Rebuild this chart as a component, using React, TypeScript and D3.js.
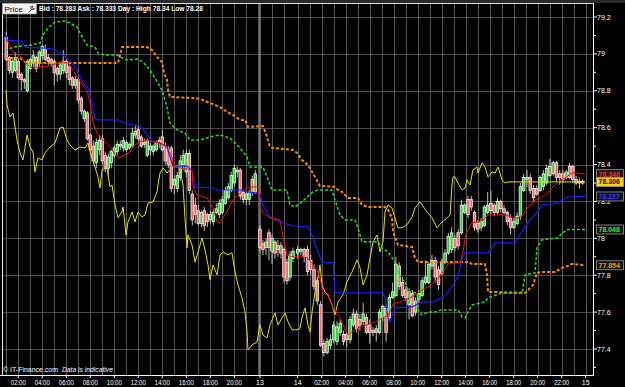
import React from "react";
import * as d3 from "d3";

// ---- sessions (trading segments) ----
const SESSION_DAY = [12, 13, 14];
const SESSION_FIRST = [1.0, 21.0, 0.0];
const SESSION_LAST = [21.75, 23.75, 23.75];
const SESSION_COUNT = [84, 12, 88];
// position of each calendar day's 00:00 on the compressed (gap-free) hour axis
const DAY_OFFSET: [number, number][] = [[12, 0], [13, 1.14], [14, 25.28], [15, 49.28]];

// ---- candles ----
const OPEN = [
  79.09,78.98,78.90,78.91,78.96,78.89,78.86,78.80,78.92,78.95,
  78.98,78.95,78.99,79.03,78.98,78.97,78.96,78.92,78.89,78.91,
  78.96,78.93,78.87,78.83,78.86,78.76,78.65,78.68,78.56,78.50,
  78.41,78.48,78.54,78.45,78.38,78.41,78.45,78.47,78.50,78.49,
  78.48,78.49,78.50,78.56,78.59,78.55,78.51,78.45,78.48,78.47,
  78.48,78.52,78.55,78.50,78.48,78.49,78.29,78.27,78.33,78.40,
  78.36,78.46,78.24,78.18,78.15,78.08,78.15,78.13,78.10,78.09,
  78.14,78.13,78.14,78.19,78.22,78.26,78.30,78.36,78.37,78.25,
  78.21,78.21,78.32,78.25,
  78.05,77.97,77.95,78.03,77.93,77.98,77.94,77.96,77.94,77.87,77.79,77.89,
  77.92,77.93,77.94,77.94,77.88,77.83,77.77,77.64,77.43,77.38,
  77.42,77.45,77.44,77.49,77.48,77.48,77.45,77.53,77.59,77.56,
  77.55,77.57,77.53,77.49,77.51,77.49,77.57,77.62,77.57,77.68,
  77.69,77.85,77.76,77.72,77.64,77.70,77.60,77.67,77.69,77.76,
  77.76,77.85,77.88,77.83,77.81,77.87,77.92,77.94,78.00,78.03,
  78.03,78.14,78.21,78.21,78.14,78.08,78.06,78.07,78.14,78.19,
  78.18,78.14,78.20,78.16,78.14,78.11,78.06,78.08,78.12,78.26,
  78.32,78.33,78.27,78.27,78.26,78.28,78.30,78.39,78.35,78.41,
  78.35,78.35,78.33,78.39,78.39,78.32,78.31,78.30,
];
const CLOSE = [
  78.97,78.91,78.96,78.98,78.87,78.86,78.85,78.96,78.97,78.99,
  78.92,79.01,79.04,78.97,78.96,78.95,78.90,78.89,78.94,78.96,
  78.90,78.86,78.83,78.86,78.75,78.69,78.69,78.54,78.48,78.42,
  78.52,78.53,78.42,78.38,78.44,78.47,78.49,78.51,78.51,78.53,
  78.52,78.51,78.57,78.58,78.54,78.50,78.52,78.53,78.50,78.50,
  78.52,78.53,78.48,78.42,78.40,78.27,78.32,78.34,78.42,78.45,
  78.46,78.26,78.10,78.13,78.08,78.14,78.07,78.09,78.13,78.14,
  78.16,78.19,78.21,78.26,78.28,78.34,78.38,78.37,78.23,78.21,
  78.24,78.25,78.25,78.35,
  77.95,77.94,77.98,77.95,78.00,77.92,77.96,77.92,77.79,77.77,77.91,77.93,
  77.94,77.94,77.90,77.82,77.83,77.74,77.66,77.42,77.38,77.44,
  77.45,77.53,77.52,77.54,77.44,77.45,77.56,77.59,77.51,77.53,
  77.59,77.49,77.49,77.50,77.49,77.60,77.63,77.49,77.68,77.71,
  77.86,77.74,77.69,77.68,77.71,77.58,77.66,77.70,77.77,77.79,
  77.86,77.88,77.79,77.75,77.87,77.92,78.01,78.03,77.95,77.96,
  78.18,78.18,78.13,78.17,78.06,78.05,78.09,78.17,78.18,78.15,
  78.14,78.20,78.16,78.14,78.09,78.06,78.09,78.12,78.28,78.33,
  78.33,78.26,78.22,78.24,78.33,78.35,78.38,78.34,78.41,78.33,
  78.33,78.32,78.36,78.33,78.32,78.30,78.30,78.31,
];
const HIGH = [
  79.12,78.99,78.97,79.01,78.97,78.90,78.87,78.97,78.98,79.02,
  78.99,79.02,79.05,79.05,79.00,78.98,78.97,78.93,78.95,79.02,
  78.97,78.94,78.88,78.88,78.87,78.77,78.70,78.69,78.57,78.53,
  78.54,78.56,78.56,78.47,78.46,78.48,78.50,78.53,78.53,78.55,
  78.53,78.52,78.60,78.61,78.61,78.56,78.54,78.54,78.52,78.51,
  78.53,78.55,78.59,78.52,78.50,78.50,78.33,78.36,78.45,78.48,
  78.48,78.48,78.26,78.22,78.18,78.15,78.17,78.14,78.15,78.16,
  78.19,78.21,78.23,78.28,78.30,78.36,78.40,78.39,78.38,78.26,
  78.25,78.26,78.34,78.37,
  78.07,77.99,78.00,78.05,78.02,77.99,77.99,77.98,77.95,77.89,77.93,77.95,
  77.96,77.95,77.95,77.96,77.91,77.86,77.79,77.66,77.45,77.46,
  77.48,77.55,77.55,77.56,77.50,77.49,77.58,77.62,77.61,77.59,
  77.65,77.59,77.56,77.52,77.53,77.62,77.64,77.64,77.70,77.76,
  77.90,77.87,77.79,77.74,77.73,77.72,77.68,77.72,77.79,77.88,
  77.87,77.91,77.90,77.85,77.89,77.94,78.03,78.06,78.02,78.05,
  78.21,78.19,78.23,78.23,78.15,78.10,78.11,78.18,78.25,78.26,
  78.19,78.22,78.21,78.18,78.15,78.13,78.11,78.14,78.30,78.35,
  78.37,78.35,78.29,78.29,78.34,78.37,78.40,78.43,78.42,78.42,
  78.37,78.37,78.37,78.41,78.40,78.34,78.33,78.32,
];
const LOW = [
  78.96,78.89,78.87,78.90,78.86,78.80,78.81,78.79,78.91,78.93,
  78.90,78.93,78.97,78.96,78.94,78.93,78.83,78.85,78.86,78.89,
  78.87,78.83,78.81,78.81,78.73,78.67,78.63,78.53,78.45,78.40,
  78.38,78.45,78.40,78.36,78.34,78.38,78.44,78.45,78.48,78.47,
  78.47,78.48,78.49,78.54,78.53,78.49,78.49,78.44,78.45,78.45,
  78.47,78.49,78.47,78.40,78.38,78.25,78.24,78.25,78.31,78.37,
  78.33,78.24,78.07,78.08,78.07,78.06,78.04,78.06,78.08,78.07,
  78.13,78.11,78.13,78.18,78.21,78.25,78.28,78.33,78.21,78.19,
  78.18,78.18,78.23,78.24,
  77.93,77.91,77.91,77.88,77.86,77.89,77.90,77.89,77.76,77.75,77.77,77.87,
  77.89,77.91,77.87,77.80,77.80,77.72,77.64,77.41,77.36,77.37,
  77.40,77.43,77.42,77.47,77.42,77.41,77.43,77.52,77.49,77.50,
  77.53,77.48,77.43,77.47,77.44,77.48,77.55,77.44,77.55,77.67,
  77.68,77.72,77.68,77.66,77.56,77.57,77.58,77.65,77.68,77.75,
  77.75,77.83,77.76,77.72,77.80,77.86,77.91,77.92,77.93,77.94,
  78.02,78.13,78.11,78.15,78.04,78.03,78.04,78.06,78.13,78.13,
  78.12,78.13,78.14,78.13,78.07,78.02,78.05,78.07,78.10,78.25,
  78.28,78.24,78.20,78.23,78.25,78.26,78.29,78.33,78.34,78.31,
  78.29,78.30,78.32,78.32,78.30,78.29,78.27,78.29,
];

// ---- indicator lines: [axis hour, price] ----
const RED_LINE: [number, number][] = [
  [1.06,79.075],[1.56,79.01],[2.14,78.99],[2.56,78.956],[2.98,78.93],[3.23,78.924],[4.06,78.93],[4.64,78.935],
  [5.06,78.945],[5.73,78.956],[6.14,78.95],[6.48,78.92],[6.98,78.864],[7.39,78.83],[7.73,78.80],[7.98,78.734],
  [8.23,78.63],[8.39,78.60],[8.56,78.571],[9.06,78.533],[9.64,78.50],[10.06,78.452],[10.48,78.436],[10.89,78.452],
  [11.31,78.468],[11.56,78.50],[12.14,78.523],[12.73,78.533],[13.23,78.523],[13.81,78.517],[14.39,78.495],
  [14.81,78.441],[14.89,78.387],[15.48,78.382],[16.06,78.376],[16.48,78.371],[16.56,78.279],[16.89,78.235],
  [17.73,78.219],[18.23,78.165],[18.56,78.089],[18.81,78.084],[19.06,78.111],[19.39,78.143],[19.89,78.208],
  [20.64,78.252],[21.06,78.273],[21.56,78.279],[21.98,78.279],[22.14,78.165],[22.39,78.138],[22.98,78.111],
  [23.81,78.10],[24.06,78.008],[24.39,77.91],[24.89,77.899],[25.48,77.905],[26.06,77.894],[26.48,77.867],
  [26.89,77.829],[27.14,77.785],[27.39,77.704],[27.81,77.688],[28.23,77.623],[28.81,77.569],[29.06,77.531],
  [29.48,77.476],[29.89,77.498],[30.48,77.52],[31.06,77.531],[31.73,77.547],[32.39,77.569],[32.81,77.58],
  [33.23,77.644],[33.81,77.655],[34.64,77.677],[35.06,77.693],[35.64,77.72],[36.31,77.742],[36.89,77.775],
  [37.39,77.818],[37.81,77.861],[38.81,77.872],[39.06,77.926],[39.23,78.002],[39.48,78.046],[39.81,78.084],
  [40.31,78.089],[40.73,78.10],[41.14,78.127],[41.73,78.127],[42.56,78.127],[43.23,78.111],[43.64,78.111],
  [44.06,78.127],[44.48,78.17],[45.06,78.208],[45.64,78.224],[46.14,78.246],[46.48,78.273],[46.98,78.306],
  [47.56,78.327],[48.14,78.354],[48.56,78.354],[49.23,78.348],
];
const BLUE_LINE: [number, number][] = [
  [0.89,79.119],[1.06,79.075],[2.31,79.07],[2.56,79.037],[4.06,79.032],[4.64,79.027],[5.06,79.021],[5.73,78.994],
  [6.31,78.962],[6.89,78.913],[7.39,78.842],[7.81,78.815],[8.14,78.734],[8.39,78.653],[8.64,78.642],[10.31,78.642],
  [11.06,78.62],[12.14,78.609],[12.56,78.577],[13.14,78.528],[13.81,78.517],[14.39,78.495],[14.81,78.409],
  [14.89,78.392],[16.06,78.392],[16.48,78.365],[16.73,78.279],[18.23,78.273],[18.56,78.262],[20.48,78.262],
  [21.06,78.252],[21.89,78.246],[22.14,78.235],[22.39,78.181],[22.98,78.111],[24.06,78.084],[24.89,78.067],
  [26.14,78.062],[26.48,78.018],[26.98,77.926],[27.31,77.872],[28.23,77.867],[28.39,77.71],[28.64,77.704],
  [32.31,77.704],[32.56,77.682],[32.81,77.569],[32.98,77.547],[33.39,77.623],[34.81,77.628],[35.64,77.655],
  [36.48,77.655],[37.31,77.677],[37.81,77.71],[38.23,77.747],[38.64,77.791],[38.98,77.894],[39.23,77.921],
  [41.14,77.921],[41.48,77.948],[41.73,77.975],[43.39,77.975],[43.64,78.002],[44.23,78.062],[44.48,78.089],
  [45.06,78.127],[45.64,78.181],[46.98,78.192],[47.31,78.208],[47.73,78.224],[49.23,78.227],
];
const GREEN_LINE: [number, number][] = [
  [0.89,79.016],[1.56,79.037],[3.14,79.048],[3.81,79.059],[4.06,79.102],[4.48,79.14],[5.06,79.173],[5.89,79.178],
  [6.31,79.167],[6.89,79.146],[7.31,79.092],[7.73,79.048],[8.39,79.037],[8.64,79.005],[9.23,78.994],[10.23,78.994],
  [10.48,78.983],[11.06,78.967],[11.89,78.972],[12.39,78.956],[12.98,78.913],[13.39,78.869],[13.98,78.804],
  [14.39,78.712],[14.64,78.625],[15.23,78.588],[15.89,78.571],[16.31,78.533],[17.14,78.533],[17.98,78.55],
  [18.81,78.56],[19.64,78.544],[20.48,78.49],[21.06,78.441],[21.31,78.387],[22.39,78.387],[22.73,78.333],
  [22.98,78.289],[23.14,78.262],[24.39,78.262],[24.64,78.181],[25.06,78.17],[25.64,78.197],[26.06,78.224],
  [26.56,78.252],[26.98,78.262],[28.14,78.262],[28.39,78.208],[28.81,78.127],[29.23,78.10],[30.06,78.10],
  [30.31,78.057],[30.64,77.981],[31.98,77.981],[32.31,77.948],[32.81,77.926],[33.39,77.872],[33.64,77.818],
  [33.98,77.775],[34.23,77.77],[34.48,77.71],[35.23,77.704],[35.31,77.612],[35.64,77.585],[36.14,77.601],
  [36.73,77.601],[37.31,77.612],[38.64,77.612],[38.98,77.574],[39.23,77.569],[39.48,77.601],[39.81,77.639],
  [40.89,77.655],[41.14,77.677],[42.31,77.704],[43.98,77.704],[44.23,77.802],[45.06,77.813],[45.23,77.948],
  [45.64,77.992],[46.98,78.002],[47.31,78.029],[47.81,78.048],[49.23,78.048],
];
const ORANGE_LINE: [number, number][] = [
  [0.89,78.978],[2.14,78.978],[2.56,78.956],[2.98,78.951],[10.31,78.951],[10.48,78.994],[10.64,79.037],
  [12.73,79.037],[13.14,79.021],[13.56,78.983],[13.81,78.967],[13.98,78.956],[14.14,78.896],[14.39,78.859],
  [14.48,78.804],[14.64,78.766],[16.56,78.761],[17.14,78.756],[17.98,78.734],[18.81,78.712],[19.39,78.685],
  [19.89,78.669],[20.48,78.642],[20.89,78.642],[21.14,78.604],[22.39,78.609],[22.73,78.55],[22.98,78.495],
  [23.23,78.49],[24.89,78.479],[25.23,78.463],[25.64,78.425],[26.14,78.398],[26.73,78.333],[27.14,78.284],
  [28.39,78.279],[28.64,78.262],[28.98,78.252],[29.48,78.219],[30.31,78.219],[30.64,78.181],[31.14,78.17],
  [32.56,78.17],[32.81,78.154],[33.14,78.111],[33.23,78.035],[33.64,77.964],[34.81,77.953],[35.06,77.894],
  [35.31,77.872],[39.48,77.872],[39.81,77.861],[40.89,77.861],[41.06,77.802],[41.14,77.71],[44.23,77.704],
  [44.48,77.72],[44.89,77.747],[45.23,77.813],[45.64,77.818],[46.73,77.818],[47.31,77.84],[47.81,77.85],
  [48.14,77.861],[49.23,77.854],
];
const YELLOW_LINE: [number, number][] = [
  [0.98,78.804],[1.06,78.723],[1.31,78.658],[1.56,78.68],[1.73,78.604],[1.89,78.533],[2.14,78.463],[2.39,78.425],
  [2.73,78.56],[2.98,78.495],[3.23,78.468],[3.39,78.36],[3.64,78.436],[3.98,78.425],[4.23,78.463],[4.64,78.495],
  [5.06,78.517],[5.48,78.598],[5.73,78.604],[6.06,78.533],[6.31,78.506],[6.73,78.479],[7.14,78.495],[7.56,78.49],
  [7.81,78.517],[8.14,78.436],[8.39,78.387],[8.64,78.333],[8.81,78.273],[8.98,78.371],[9.39,78.382],[9.64,78.279],
  [9.81,78.289],[10.06,78.181],[10.31,78.111],[10.64,78.143],[10.73,78.17],[10.98,78.018],[11.14,78.089],
  [11.48,78.143],[11.73,78.089],[11.98,78.143],[12.31,78.116],[12.56,78.127],[12.81,78.192],[13.23,78.197],
  [13.56,78.252],[13.64,78.289],[13.81,78.354],[14.06,78.382],[14.39,78.354],[14.81,78.382],[15.23,78.398],
  [15.48,78.371],[15.73,78.289],[15.89,78.111],[16.06,77.948],[16.14,78.018],[16.48,77.964],[16.73,77.872],
  [16.98,77.926],[17.31,78.002],[17.56,77.937],[17.81,77.856],[17.98,77.775],[18.23,77.856],[18.56,77.802],
  [18.81,77.91],[19.06,77.926],[19.48,77.91],[19.81,77.921],[20.06,77.818],[20.31,77.747],[20.64,77.677],
  [20.89,77.601],[21.06,77.493],[21.14,77.395],[21.48,77.422],[21.89,77.438],[22.14,77.531],[22.39,77.476],
  [22.73,77.46],[22.98,77.531],[23.39,77.596],[23.64,77.531],[23.98,77.569],[24.23,77.596],[24.48,77.547],
  [24.81,77.504],[25.23,77.504],[25.48,77.514],[25.64,77.569],[25.89,77.623],[26.14,77.531],[26.31,77.493],
  [26.48,77.601],[26.73,77.71],[26.98,77.785],[27.14,77.856],[27.31,77.747],[27.56,77.71],[27.81,77.693],
  [28.14,77.639],[28.39,77.585],[28.64,77.655],[29.06,77.693],[29.39,77.764],[29.81,77.818],[30.23,77.883],
  [30.48,77.84],[30.73,77.747],[31.06,77.802],[31.31,77.894],[31.56,77.981],[31.89,78.018],[32.14,77.926],
  [32.39,77.981],[32.56,78.143],[32.81,78.181],[33.14,78.165],[33.39,78.111],[33.64,78.057],[33.98,78.057],
  [34.39,78.073],[34.81,78.116],[35.06,78.165],[35.48,78.197],[36.06,78.143],[36.48,78.111],[36.89,78.057],
  [37.31,78.089],[37.73,78.111],[37.98,78.127],[38.14,78.289],[38.23,78.333],[38.39,78.333],[38.64,78.30],
  [38.98,78.262],[39.23,78.273],[39.39,78.317],[39.64,78.289],[39.89,78.371],[40.23,78.387],[40.31,78.354],
  [40.64,78.409],[40.89,78.387],[41.14,78.333],[41.48,78.36],[41.73,78.354],[41.98,78.387],[42.31,78.317],
  [42.56,78.30],[42.81,78.306],[49.23,78.306],
];

// ---- axes ----
const Y_TICKS = [79.2, 79.0, 78.8, 78.6, 78.4, 78.2, 78.0, 77.8, 77.6, 77.4];
const Y_LABELS = ["79.2", "79", "78.8", "78.6", "78.4", "78.2", "78", "77.8", "77.6", "77.4"];
const Y_MINOR = [79.1, 78.9, 78.7, 78.5, 78.3, 78.1, 77.9, 77.7, 77.5, 77.3];
const X_TICK_DAY = [12,12,12,12,12,12,12,12,12,12,13,14,14,14,14,14,14,14,14,14,14,14,14,15];
const X_TICK_HOUR = [2,4,6,8,10,12,14,16,18,20,21,0,2,4,6,8,10,12,14,16,18,20,22,0];
const X_TICK_LABEL = ["02:00","04:00","06:00","08:00","10:00","12:00","14:00","16:00","18:00","20:00","13","14",
  "02:00","04:00","06:00","08:00","10:00","12:00","14:00","16:00","18:00","20:00","22:00","15"];

const LAST_VALUE = [78.348, 78.306, 78.227, 78.048, 77.854];
const LAST_TEXT = ["78.348", "78.306", "78.227", "78.048", "77.854"];
const LAST_FG = ["#ff2a2a", "#000000", "#3a3aff", "#33ee33", "#ff9a00"];
const LAST_BG = ["#1a1a1a", "#ffd400", "#111111", "#111111", "#111111"];

const HEADER = "Bid : 78.283 Ask : 78.333  Day : High 78.34 Low 78.28";

export default function App() {
  const L = 2, R = 593, T = 3, B = 375;
  const offs = new Map(DAY_OFFSET);
  const axisHour = (day: number, hour: number) => (offs.get(day) ?? 0) + hour;
  const x = d3.scaleLinear().domain([0, 50]).range([-5.7, 594.3]);
  const y = d3.scaleLinear().domain([77.4, 79.2]).range([349, 17]);

  // candle times
  const candleH: number[] = [];
  SESSION_DAY.forEach((day, s) => {
    const n = SESSION_COUNT[s];
    const step = (SESSION_LAST[s] - SESSION_FIRST[s]) / (n - 1);
    for (let i = 0; i < n; i++) candleH.push(axisHour(day, SESSION_FIRST[s] + i * step));
  });

  // hourly grid
  const gridH: number[] = [];
  for (let h = 1; h <= 22; h++) gridH.push(axisHour(12, h));
  for (let h = 22; h <= 23; h++) gridH.push(axisHour(13, h));
  for (let h = 0; h <= 23; h++) gridH.push(axisHour(14, h));
  gridH.push(axisHour(15, 0));
  const boundaryH = axisHour(13, 21);

  const line = d3.line<[number, number]>().x((d) => x(d[0])).y((d) => y(d[1]));
  const bw = 2.6;

  return (
    <svg width={625} height={387} style={{ position: "absolute", left: 0, top: 0, display: "block" }}
      fontFamily="'Liberation Sans', Arial, sans-serif">
      <defs>
        <clipPath id="plotclip"><rect x={L} y={T + 1} width={R - L} height={B - T - 1} /></clipPath>
      </defs>
      <rect x={0} y={0} width={625} height={387} fill="#000" />
      <rect x={0} y={0} width={625} height={T} fill="#2a2a2a" />
      <g clipPath="url(#plotclip)">
        {Y_TICKS.map((v) => (
          <line key={"hg" + v} x1={L} x2={R} y1={Math.round(y(v)) + 0.5} y2={Math.round(y(v)) + 0.5} stroke="#4a4a4a" strokeWidth={1} />
        ))}
        {gridH.map((h, i) => (
          <line key={"vg" + i} x1={Math.round(x(h)) + 0.5} x2={Math.round(x(h)) + 0.5} y1={T} y2={B} stroke="#585858" strokeWidth={1} />
        ))}
        <line x1={x(boundaryH)} x2={x(boundaryH)} y1={T} y2={B} stroke="#d0d0d0" strokeWidth={1} />
        {candleH.map((h, i) => {
          const cx = x(h);
          const up = CLOSE[i] >= OPEN[i];
          const top = y(Math.max(OPEN[i], CLOSE[i]));
          const bot = y(Math.min(OPEN[i], CLOSE[i]));
          return (
            <g key={"c" + i}>
              <line x1={cx} x2={cx} y1={y(HIGH[i])} y2={y(LOW[i])} stroke="#d4d4d4" strokeWidth={0.9} />
              <rect x={cx - bw / 2} y={top} width={bw} height={Math.max(1.2, bot - top)}
                fill={up ? "#2fd62f" : "#f46a6a"} stroke="#ffffff" strokeWidth={0.7} />
            </g>
          );
        })}
        <path d={line(YELLOW_LINE) || ""} fill="none" stroke="#e4e400" strokeWidth={1} />
        <path d={line(ORANGE_LINE) || ""} fill="none" stroke="#ff8a00" strokeWidth={2} strokeDasharray="3,2" />
        <path d={line(GREEN_LINE) || ""} fill="none" stroke="#22e022" strokeWidth={1.5} strokeDasharray="3,2" />
        <path d={line(BLUE_LINE) || ""} fill="none" stroke="#1c1cff" strokeWidth={1.2} />
        <path d={line(RED_LINE) || ""} fill="none" stroke="#ee1111" strokeWidth={1} />
      </g>

      {/* frame */}
      <line x1={L} x2={R} y1={T + 0.5} y2={T + 0.5} stroke="#e0e0e0" />
      <line x1={L + 0.5} x2={L + 0.5} y1={T} y2={B} stroke="#e0e0e0" />
      <line x1={R + 0.5} x2={R + 0.5} y1={T} y2={B + 1} stroke="#ffffff" />
      <line x1={0} x2={R + 1} y1={B + 0.5} y2={B + 0.5} stroke="#ffffff" />

      {/* y axis */}
      {Y_MINOR.map((v) => y(v) > T && y(v) < B ? (
        <line key={"ym" + v} x1={R} x2={R + 3} y1={y(v)} y2={y(v)} stroke="#fff" />
      ) : null)}
      {Y_TICKS.map((v, i) => (
        <g key={"yl" + v}>
          <line x1={R} x2={R + 4} y1={y(v)} y2={y(v)} stroke="#fff" />
          <text x={597} y={y(v) + 2.6} fontSize={7} fill="#fff">{Y_LABELS[i]}</text>
        </g>
      ))}

      {/* last value boxes */}
      {LAST_VALUE.map((v, i) => (
        <g key={"lv" + i}>
          <rect x={596.5} y={y(v) - 4.5} width={27} height={9} fill={LAST_BG[i]} stroke="#9a9a9a" strokeWidth={0.8} />
          <text x={598.5} y={y(v) + 2.6} fontSize={7} fontWeight="bold" fill={LAST_FG[i]}>{LAST_TEXT[i]}</text>
        </g>
      ))}

      {/* x axis */}
      {X_TICK_LABEL.map((lab, i) => {
        const px = x(axisHour(X_TICK_DAY[i], X_TICK_HOUR[i]));
        return (
          <g key={"xt" + i}>
            <line x1={px} x2={px} y1={B} y2={B + 3} stroke="#fff" />
            <text x={px} y={385} fontSize={7} fill="#fff" textAnchor="middle"
              {...(lab.length > 2 ? { textLength: 15, lengthAdjust: "spacingAndGlyphs" } : {})}>{lab}</text>
          </g>
        );
      })}

      {/* header */}
      <rect x={2.5} y={3.5} width={34} height={10.5} fill="#f3f3f3" stroke="#9a9a9a" strokeWidth={0.8} />
      <text x={4.5} y={11.8} fontSize={8} fill="#000">Price</text>
      <g stroke="#333" strokeWidth={0.9} fill="none">
        <path d="M28.5 12.5 L32 9 M31 6.5 A2 2 0 1 0 34.5 8.5 L33 8.6 L32.4 7.5 L33.2 6.2 Z" />
      </g>
      <text x={39} y={11.3} fontSize={7.5} fontWeight="bold" fill="#fff" textLength={164} lengthAdjust="spacingAndGlyphs">{HEADER}</text>

      {/* footer */}
      <text x={3} y={372} fontSize={7} fill="#fff" textLength={55} lengthAdjust="spacingAndGlyphs">© IT-Finance.com</text>
      <text x={62} y={372} fontSize={7} fontStyle="italic" fill="#fff" textLength={51} lengthAdjust="spacingAndGlyphs">Data is indicative</text>
    </svg>
  );
}
